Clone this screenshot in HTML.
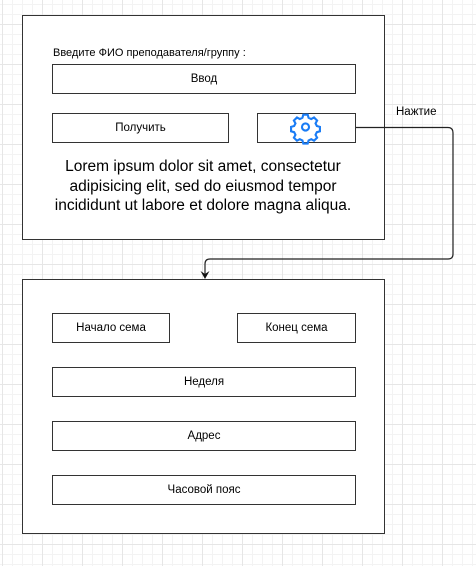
<!DOCTYPE html>
<html><head><meta charset="utf-8"><style>
html,body{margin:0;padding:0}
body{width:476px;height:566px;position:relative;overflow:hidden;background-color:#fff;
background-image:linear-gradient(#e6e6e6 1px,transparent 1px),linear-gradient(90deg,#e6e6e6 1px,transparent 1px),linear-gradient(#f3f3f3 1px,transparent 1px),linear-gradient(90deg,#f3f3f3 1px,transparent 1px);
background-size:40px 40px,40px 40px,10px 10px,10px 10px;background-position:0 24px,2px 0,0 4px,2px 0;
font-family:"Liberation Sans",Arial,sans-serif;color:#000}
.b{position:absolute;box-sizing:border-box;border:1.5px solid #333;background:#fff}
.t{position:absolute;box-sizing:border-box;border:1.3px solid #333;background:#fff;font-size:11.5px;display:flex;align-items:center;justify-content:center}
</style></head><body>
<div class="b" style="left:22px;top:15px;width:363px;height:225px"></div>
<div style="position:absolute;left:53px;top:47px;font-size:11px">Введите ФИО преподавателя/группу :</div>
<div class="t" style="left:52px;top:64px;width:304px;height:30px">Ввод</div>
<div class="t" style="left:52px;top:113px;width:177px;height:30px">Получить</div>
<div class="t" style="left:257px;top:113px;width:99px;height:30px"></div>
<svg style="position:absolute;left:0;top:0" width="476" height="566">
<g transform="translate(305.5,127) scale(0.88)" fill="none" stroke="#1a7cf5" stroke-width="2.4">
<circle r="4"/>
<path d="M-2.5,-14 h5 l1,3.5 l3,1.5 l3.2,-1.8 l3.5,3.5 l-1.8,3.2 l1.5,3 l3.5,1 v5 l-3.5,1 l-1.5,3 l1.8,3.2 l-3.5,3.5 l-3.2,-1.8 l-3,1.5 l-1,3.5 h-5 l-1,-3.5 l-3,-1.5 l-3.2,1.8 l-3.5,-3.5 l1.8,-3.2 l-1.5,-3 l-3.5,-1 v-5 l3.5,-1 l1.5,-3 l-1.8,-3.2 l3.5,-3.5 l3.2,1.8 l3,-1.5 z"/>
</g>
<path d="M356,127.5 H448 Q453,127.5 453,133 V254 Q453,259 448,259 H210 Q205,259 205,264 V276" fill="none" stroke="#222" stroke-width="1.2"/>
<path d="M200.5,271 L205,279 L209.5,271 L205,274 Z" fill="#111"/>
</svg>
<div style="position:absolute;left:396px;top:106px;font-size:11.5px">Нажтие</div>
<div style="position:absolute;left:40px;top:157px;width:326px;text-align:center;font-size:15.5px;line-height:19.5px">Lorem ipsum dolor sit amet, consectetur adipisicing elit, sed do eiusmod tempor incididunt ut labore et dolore magna aliqua.</div>
<div class="b" style="left:22px;top:279px;width:363px;height:255px"></div>
<div class="t" style="left:52px;top:313px;width:118px;height:30px">Начало сема</div>
<div class="t" style="left:237px;top:313px;width:119px;height:30px">Конец сема</div>
<div class="t" style="left:52px;top:367px;width:304px;height:30px">Неделя</div>
<div class="t" style="left:52px;top:421px;width:304px;height:30px">Адрес</div>
<div class="t" style="left:52px;top:475px;width:304px;height:30px">Часовой пояс</div>
</body></html>
